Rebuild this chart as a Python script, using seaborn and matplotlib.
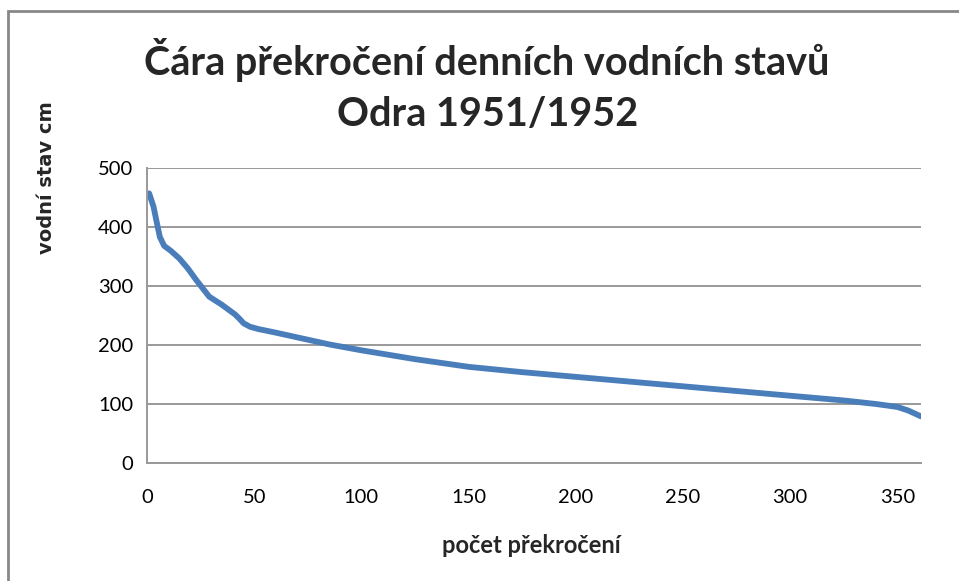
import numpy as np
import pandas as pd
import seaborn as sns
import matplotlib.pyplot as plt
from matplotlib.patches import Rectangle

# pocet prekroceni (days) and water level (cm)
pocet = [1, 3, 5, 6, 8, 11, 15, 19, 23, 29, 35, 38, 41, 43, 45, 48, 52, 60,
         70, 85, 100, 125, 150, 175, 200, 225, 250, 275, 300, 325, 340, 350,
         355, 358, 361]
stav = [457, 435, 400, 383, 368, 360, 347, 330, 310, 282, 268, 260, 252, 245,
        237, 231, 227, 221, 213, 201, 191, 176, 163, 154, 146, 138, 130, 122,
        114, 106, 100, 95, 89, 84, 79]
x_ticks = [0, 50, 100, 150, 200, 250, 300, 350]
y_ticks = [0, 100, 200, 300, 400, 500]

df = pd.DataFrame({'pocet': pocet, 'stav': stav})

sns.set_style('white')
plt.rcParams['font.family'] = ['Lato', 'DejaVu Sans']

fig = plt.figure(figsize=(9.59, 5.81), dpi=100)
ax = fig.add_axes([0.1533, 0.2031, 0.8071, 0.5077])

sns.lineplot(data=df, x='pocet', y='stav', ax=ax, color='#4A7EBB', lw=4.2,
             solid_capstyle='round')

ax.set_xlim(0, 361)
ax.set_ylim(0, 500)
ax.set_xticks(x_ticks)
ax.set_yticks(y_ticks)
ax.grid(axis='y', color='#999999', lw=1.4)
ax.set_axisbelow(True)
for s in ['top', 'right']:
    ax.spines[s].set_visible(False)
ax.spines['left'].set_color('#999999')
ax.spines['bottom'].set_color('#999999')
ax.spines['left'].set_linewidth(1.4)
ax.spines['bottom'].set_linewidth(1.4)
ax.tick_params(axis='both', which='major', direction='out', length=7,
               width=1.4, color='#999999', labelsize=14.5, labelcolor='black')
ax.tick_params(axis='x', pad=12)
ax.tick_params(axis='y', pad=3)

ax.set_xlabel('počet překročení', fontsize=17, fontweight='bold')
ax.xaxis.set_label_coords(0.497, -0.278)
ax.xaxis.label.set_va('center')
ax.set_ylabel('vodní stav cm', fontsize=14, fontweight='bold',
              family=['DejaVu Sans'])
ax.yaxis.set_label_coords(-0.13, 0.966)
ax.yaxis.label.set_va('center')

fig.text(0.508, 0.897, 'Čára překročení denních vodních stavů', ha='center',
         va='center', fontsize=28.5, fontweight='bold')
fig.text(0.508, 0.803, 'Odra 1951/1952', ha='center', va='center',
         fontsize=28.5, fontweight='bold')

# outer chart-area border
fig.patches.append(Rectangle((8 / 959, -0.05), 1.0, 1 - 11 / 581 + 0.05,
                             transform=fig.transFigure, fill=False,
                             edgecolor='#888888', lw=2))

fig.savefig('out.png', dpi=100)
